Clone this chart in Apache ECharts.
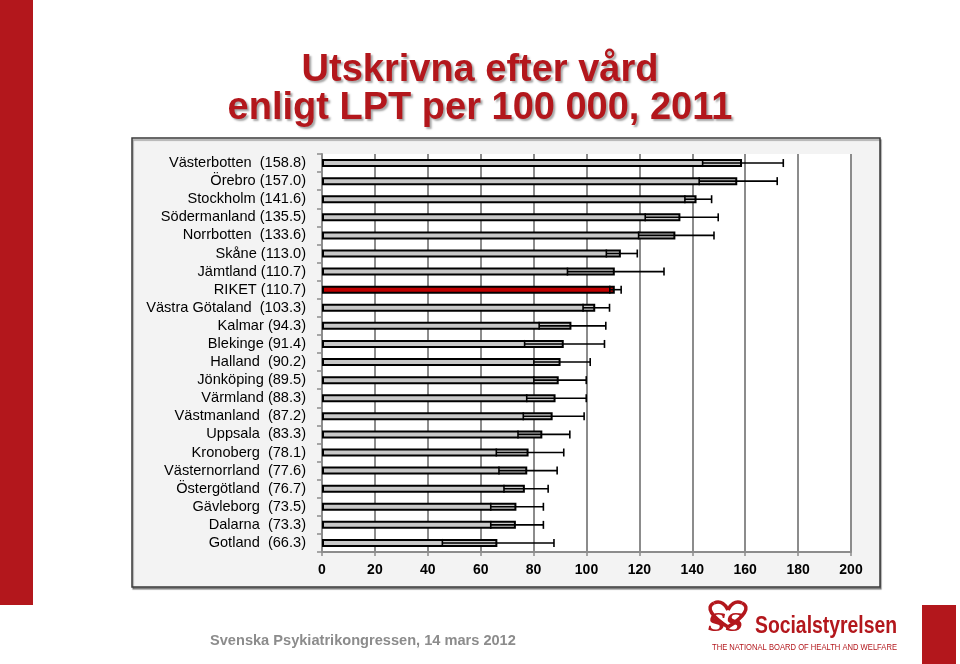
<!DOCTYPE html>
<html>
<head>
<meta charset="utf-8">
<script src="https://cdn.jsdelivr.net/npm/echarts@6/dist/echarts.min.js"></script>
<style>
html,body{margin:0;padding:0;background:#fff;}
#c{width:960px;height:664px;}
</style>
</head>
<body>
<div id="c"></div>
<script>
// ---- data ----
const regions = ['Västerbotten','Örebro','Stockholm','Södermanland','Norrbotten','Skåne','Jämtland','RIKET','Västra Götaland','Kalmar','Blekinge','Halland','Jönköping','Värmland','Västmanland','Uppsala','Kronoberg','Västernorrland','Östergötland','Gävleborg','Dalarna','Gotland'];
const values = [158.8,157.0,141.6,135.5,133.6,113.0,110.7,110.7,103.3,94.3,91.4,90.2,89.5,88.3,87.2,83.3,78.1,77.6,76.7,73.5,73.3,66.3];
const ciLow  = [143.9,142.6,137.2,122.2,119.7,107.5,92.8,108.8,98.7,82.1,76.6,80.1,80.1,77.4,76.1,74.1,65.9,66.9,68.8,63.8,63.8,45.5];
const ciHigh = [174.4,172.1,147.3,149.8,148.2,119.2,129.3,113.1,108.7,107.3,106.8,101.4,99.9,99.9,99.1,93.7,91.4,88.9,85.5,83.7,83.7,87.7];
const categoryLabels = ['Västerbotten  (158.8)','Örebro (157.0)','Stockholm (141.6)','Södermanland (135.5)','Norrbotten  (133.6)','Skåne (113.0)','Jämtland (110.7)','RIKET (110.7)','Västra Götaland  (103.3)','Kalmar (94.3)','Blekinge (91.4)','Halland  (90.2)','Jönköping (89.5)','Värmland (88.3)','Västmanland  (87.2)','Uppsala  (83.3)','Kronoberg  (78.1)','Västernorrland  (77.6)','Östergötland  (76.7)','Gävleborg  (73.5)','Dalarna  (73.3)','Gotland  (66.3)'];
const xTicks = {min: 0, max: 200, interval: 20};
const titleLines = ['Utskrivna efter vård', 'enligt LPT per 100 000, 2011'];
const footerText = 'Svenska Psykiatrikongressen, 14 mars 2012';
const logoName = 'Socialstyrelsen';
const logoSub = 'THE NATIONAL BOARD OF HEALTH AND WELFARE';

// ---- chart ----
const chart = echarts.init(document.getElementById('c'), null, {renderer: 'canvas'});
const FONT = '"Liberation Sans", Arial, Helvetica, sans-serif';
const RED = '#b3171c';

const mctx = document.createElement('canvas').getContext('2d');
function fitScale(text, font, target) {
  mctx.font = font;
  return target / mctx.measureText(text).width;
}
const nameFont = 'bold 23px ' + FONT;
const subFont = '9px ' + FONT;
const nameScale = fitScale(logoName, nameFont, 142);
const subScale = fitScale(logoSub, subFont, 185);

const barData = values.map((v, i) => regions[i] === 'RIKET'
  ? {value: v, itemStyle: {color: '#c00000'}}
  : v);
const errData = values.map((v, i) => [i, ciLow[i], ciHigh[i], v]);

const heartStyle = {stroke: RED, lineWidth: 3.5, fill: 'none'};
const option = {
  backgroundColor: '#ffffff',
  animation: false,
  title: {
    text: titleLines.join('\n'),
    left: 'center',
    top: 47,
    textStyle: {
      color: RED,
      fontFamily: FONT,
      fontWeight: 'bold',
      fontSize: 38,
      lineHeight: 38,
      align: 'center',
      textShadowColor: 'rgba(0,0,0,0.35)',
      textShadowBlur: 2,
      textShadowOffsetX: 2,
      textShadowOffsetY: 2
    }
  },
  graphic: [
    {type: 'rect', z: -10, shape: {x: 0, y: 0, width: 33, height: 605}, style: {fill: RED}},
    {type: 'rect', z: -10, shape: {x: 922, y: 605, width: 34, height: 59}, style: {fill: RED}},
    {type: 'rect', z: -10, shape: {x: 132, y: 138, width: 748, height: 449},
      style: {fill: '#f3f3f3', stroke: '#3a3a3a', lineWidth: 1.5,
        shadowColor: 'rgba(0,0,0,0.35)', shadowOffsetX: 1, shadowOffsetY: 2, shadowBlur: 1}},
    {type: 'text', x: 210, y: 633,
      style: {text: footerText, fill: '#8c8c8c', font: 'bold 14.6px ' + FONT}},
    {type: 'bezierCurve', shape: {x1: 728, y1: 627, cpx1: 712, cpy1: 617, cpx2: 705, cpy2: 607, x2: 714, y2: 603}, style: heartStyle},
    {type: 'bezierCurve', shape: {x1: 714, y1: 603, cpx1: 721, cpy1: 600, cpx2: 726, cpy2: 605, x2: 728, y2: 610}, style: heartStyle},
    {type: 'bezierCurve', shape: {x1: 728, y1: 610, cpx1: 730, cpy1: 605, cpx2: 735, cpy2: 600, x2: 742, y2: 603}, style: heartStyle},
    {type: 'bezierCurve', shape: {x1: 742, y1: 603, cpx1: 751, cpy1: 607, cpx2: 744, cpy2: 617, x2: 728, y2: 627}, style: heartStyle},
    {type: 'text', x: 708, y: 612,
      style: {text: 'SS', fill: RED, font: 'italic bold 25px "DejaVu Serif", serif'}},
    {type: 'text', x: 755, y: 615, scaleX: nameScale,
      style: {text: logoName, fill: RED, font: nameFont}},
    {type: 'text', x: 712, y: 643, scaleX: subScale,
      style: {text: logoSub, fill: RED, font: subFont}}
  ],
  grid: {
    left: 322, right: 109, top: 154, bottom: 112,
    show: true, backgroundColor: '#ffffff', borderWidth: 0
  },
  xAxis: {
    type: 'value',
    min: xTicks.min, max: xTicks.max, interval: xTicks.interval,
    axisLine: {show: true, lineStyle: {color: '#8c8c8c', width: 2}},
    axisTick: {show: true, length: 4, lineStyle: {color: '#8c8c8c', width: 1.5}},
    splitLine: {show: true, lineStyle: {color: '#8c8c8c', width: 2}},
    axisLabel: {color: '#000', fontFamily: FONT, fontSize: 14, fontWeight: 'bold', margin: 11}
  },
  yAxis: {
    type: 'category',
    inverse: true,
    data: categoryLabels,
    axisLine: {show: true, lineStyle: {color: '#8c8c8c', width: 2}},
    axisTick: {show: true, length: 5, lineStyle: {color: '#8c8c8c', width: 1.5}},
    splitLine: {show: false},
    axisLabel: {color: '#000', fontFamily: FONT, fontSize: 14.6, margin: 16, interval: 0}
  },
  series: [
    {
      type: 'bar',
      data: barData,
      barWidth: 8,
      itemStyle: {color: '#c8c8c8', borderColor: '#000', borderWidth: 2},
      z: 3
    },
    {
      type: 'custom',
      data: errData,
      encode: {x: [1, 2], y: 0},
      z: 4,
      renderItem: function (params, api) {
        const idx = api.value(0);
        const lo = api.coord([api.value(1), idx]);
        const hi = api.coord([api.value(2), idx]);
        const h = 4;
        const s = {stroke: '#000', lineWidth: 1.6};
        return {
          type: 'group',
          children: [
            {type: 'line', shape: {x1: lo[0], y1: lo[1], x2: hi[0], y2: hi[1]}, style: s},
            {type: 'line', shape: {x1: lo[0], y1: lo[1] - h, x2: lo[0], y2: lo[1] + h}, style: s},
            {type: 'line', shape: {x1: hi[0], y1: hi[1] - h, x2: hi[0], y2: hi[1] + h}, style: s}
          ]
        };
      }
    }
  ]
};
chart.setOption(option);
</script>
</body>
</html>
